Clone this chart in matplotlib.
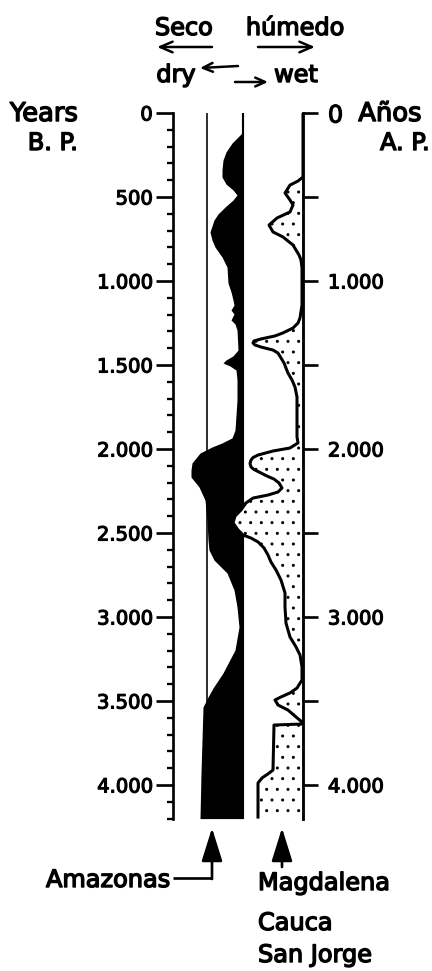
import matplotlib.pyplot as plt
import matplotlib.patheffects as pe
import numpy as np

# Amazonas: years B.P. and width of the black (dry) band
amaz_years = [0, 113, 143, 179, 232, 280, 339, 381, 423, 458, 488, 518, 560, 601,
              637, 708, 756, 798, 815, 857, 917, 1012, 1065, 1113, 1143, 1173, 1196,
              1232, 1256, 1292, 1411, 1446, 1470, 1488, 1506, 1530, 1589, 1708, 1887,
              1934, 1964, 1988, 2024, 2083, 2125, 2167, 2226, 2304, 2423, 2542, 2601,
              2661, 2738, 2839, 2940, 3059, 3196, 3333, 3423, 3476, 3536, 3732, 3928,
              4200]
amaz_dry = [0, 0, 5, 11, 17, 20, 21, 21, 17, 10, 6, 10, 18, 25,
            29, 33, 31, 28, 26, 21, 16, 15, 12, 10, 9, 12, 9,
            12, 8, 6, 5, 10, 17, 20, 13, 7, 6, 6, 8,
            11, 21, 31, 43, 51, 52, 52, 44, 38, 36, 35, 34,
            29, 16, 9, 6, 4, 8, 20, 30, 35, 40, 41, 42,
            43]

# Magdalena / Cauca / San Jorge: width of the dotted (wet) band
magd_years = [0, 381, 405, 429, 476, 518, 548, 589, 625, 667, 708, 738, 786, 845,
              875, 923, 1143, 1220, 1250, 1280, 1309, 1327, 1345, 1357, 1369, 1381,
              1393, 1411, 1429, 1458, 1488, 1518, 1548, 1589, 1631, 1690, 1928, 1964,
              1994, 2012, 2036, 2051, 2066, 2086, 2107, 2122, 2137, 2161, 2179, 2202,
              2232, 2256, 2274, 2292, 2321, 2363, 2399, 2440, 2482, 2512, 2530, 2553,
              2589, 2631, 2673, 2720, 2780, 2857, 2940, 3036, 3119, 3178, 3226, 3297,
              3375, 3423, 3452, 3476, 3494, 3524, 3554, 3595, 3625, 3637, 3643, 3911,
              3934, 3958, 3988, 4200]
magd_wet = [0, 0, 5, 13, 18, 13, 10, 13, 26, 34, 30, 20, 10, 4,
            2, 1, 1, 3, 5, 10, 20, 28, 42, 49, 50, 48,
            42, 30, 25, 22, 19, 17, 15, 11, 8, 6, 6, 5,
            13, 30, 45, 50, 52, 53, 52, 49, 44, 36, 29, 24,
            21, 25, 35, 50, 57, 62, 68, 70, 65, 60, 52, 45,
            39, 35, 32, 27, 22, 18, 18, 17, 13, 7, 3, 1,
            1, 6, 13, 22, 28, 25, 15, 7, 1, 1, 29, 30,
            35, 41, 45, 45]

year_ticks = np.arange(0, 4001, 500)
left_labels = ['0', '500', '1.000', '1.500', '2.000', '2.500', '3.000', '3.500', '4.000']
right_labels = ['0', '', '1.000', '', '2.000', '', '3.000', '', '4.000']

DPI = 64
W, H = 432, 971
plt.rcParams['font.family'] = ['DejaVu Sans']
plt.rcParams['hatch.linewidth'] = 1.0
heavy = [pe.withStroke(linewidth=1.6, foreground='black')]
heavy_small = [pe.withStroke(linewidth=1.3, foreground='black')]

fig = plt.figure(figsize=(W / DPI, H / DPI), dpi=DPI)

# column area: x in px-like units from the left axis, y in years B.P.
ax = fig.add_axes([173 / W, 1 - 818.6 / H, 130 / W, 705.6 / H])
ax.set_xlim(0, 130)
ax.set_ylim(4200, 0)
amaz_edge, magd_edge = 70, 130

ax.axvline(34, color='black', lw=1.8, zorder=2)
ax.axvline(amaz_edge, color='black', lw=2.4, zorder=2)
ax.fill_betweenx(amaz_years, amaz_edge - np.array(amaz_dry), amaz_edge,
                 color='black', lw=0, zorder=2)

magd_x = magd_edge - np.array(magd_wet)
ax.fill_betweenx(magd_years, magd_x, magd_edge, facecolor='white',
                 edgecolor='black', hatch='.', lw=0, zorder=3)
ax.plot(magd_x, magd_years, color='black', lw=3.4, zorder=4,
        solid_joinstyle='round', solid_capstyle='butt')

for s in ['top', 'bottom', 'right']:
    ax.spines[s].set_visible(False)
ax.spines['left'].set_linewidth(3.0)
ax.set_xticks([])
ax.set_yticks(year_ticks, left_labels, fontsize=22)
ax.set_yticks(np.arange(0, 4201, 100), minor=True)
ax.tick_params(axis='y', which='major', direction='out', length=19, width=3.0, pad=4)
ax.tick_params(axis='y', which='minor', direction='out', length=7, width=2.6)
for t in ax.get_yticklabels():
    t.set_path_effects(heavy_small)

ax2 = ax.twinx()
ax2.set_ylim(4200, 0)
for s in ['top', 'bottom', 'left']:
    ax2.spines[s].set_visible(False)
ax2.spines['right'].set_linewidth(3.2)
ax2.set_yticks(year_ticks, right_labels, fontsize=22)
ax2.tick_params(axis='y', direction='out', length=17, width=3.0, pad=11)
for t in ax2.get_yticklabels():
    t.set_path_effects(heavy_small)
ax2.get_yticklabels()[0].set_fontsize(27)

# annotations in pixel-like figure coordinates
ov = fig.add_axes([0, 0, 1, 1], zorder=5)
ov.set_xlim(0, W)
ov.set_ylim(H, 0)
ov.axis('off')

txt = dict(fontsize=27, va='baseline', path_effects=heavy)
ov.text(184, 35, 'Seco', ha='center', **txt)
ov.text(295, 35, 'húmedo', ha='center', **txt)
ov.text(176, 82, 'dry', ha='center', **txt)
ov.text(296, 82, 'wet', ha='center', **txt)
ov.text(44, 121, 'Years', ha='center', **dict(txt, fontsize=29))
ov.text(53, 150, 'B. P.', ha='center', **txt)
ov.text(390, 121, 'Años', ha='center', **dict(txt, fontsize=29))
ov.text(405, 150, 'A. P.', ha='center', **txt)
ov.text(170, 887, 'Amazonas', ha='right', **txt)
ov.text(258, 890, 'Magdalena', ha='left', **txt)
ov.text(258, 930, 'Cauca', ha='left', **txt)
ov.text(258, 962, 'San Jorge', ha='left', **txt)


def arrow(x0, y0, x1, y1, style, lw=2.8):
    ov.annotate('', xy=(x1, y1), xytext=(x0, y0),
                arrowprops=dict(arrowstyle=style, color='black', lw=lw,
                                shrinkA=0, shrinkB=0, mutation_scale=20))


open_head = '->,head_length=0.7,head_width=0.3'
arrow(212, 47, 157, 47, open_head)
arrow(258, 47, 315, 47, open_head)
arrow(238, 66, 200, 68, '->,head_length=0.55,head_width=0.25')
arrow(235, 82, 268, 82, '->,head_length=0.55,head_width=0.25')

solid_head = '-|>,head_length=1.6,head_width=0.5'
ov.plot([173, 212], [878, 878], color='black', lw=3.0, solid_capstyle='butt')
arrow(212, 879, 212, 828, solid_head, lw=3.0)
arrow(282, 867, 282, 828, solid_head, lw=3.0)

fig.savefig('out.png', dpi=DPI, facecolor='white')
